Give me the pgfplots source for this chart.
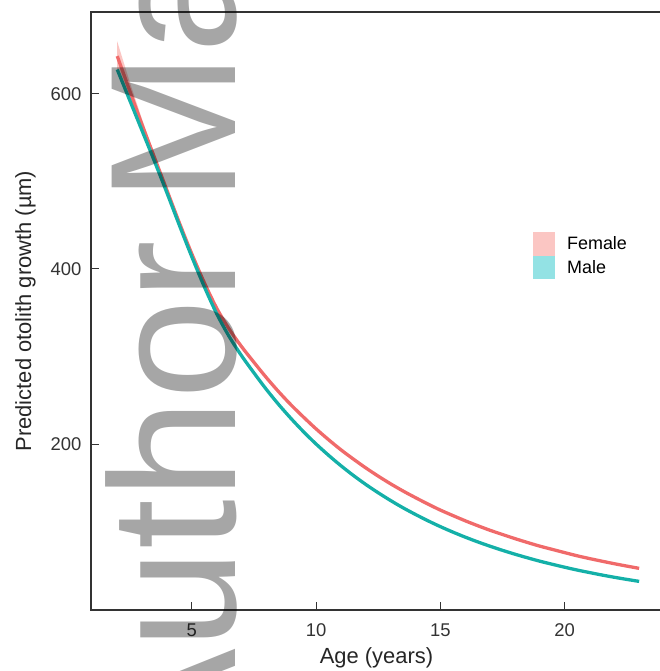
\documentclass[border=0pt]{standalone}
\usepackage{pgfplots}
\pgfplotsset{compat=1.18}
\usepackage{fontspec}
\setmainfont{Liberation Sans}
\definecolor{femline}{HTML}{F06A6A}
\definecolor{maleline}{HTML}{14B0A8}
\definecolor{femband}{HTML}{FBC6C3}
\definecolor{maleband}{HTML}{93E2E4}
\definecolor{axgray}{HTML}{333333}
\begin{document}
\begin{tikzpicture}
\begin{axis}[
  scale only axis, width=571bp, height=598bp,
  xmin=0.944, xmax=23.92, ymin=10.3, ymax=693.7,
  xtick={5,10,15,20}, ytick={200,400,600},
  xtick pos=left, ytick pos=left,
  tick align=inside, major tick length=8bp,
  axis line style={draw=axgray, line width=1.2bp},
  tick style={draw=axgray, line width=1bp},
  /pgf/number format/assume math mode=true,
  every tick label/.append style={font=\fontsize{18.5}{20}\selectfont, text=axgray},
  yticklabel style={xshift=-6bp},
  xticklabel style={yshift=-10bp},
  xlabel={Age (years)},
  ylabel={Predicted otolith growth (µm)},
  label style={font=\fontsize{22}{24}\selectfont, text=black!85},
  xlabel style={at={(axis description cs:0.5,0)}, anchor=base, yshift=-53bp},
  ylabel style={at={(axis description cs:-0.105,0.5)}, anchor=base, rotate=0},
  legend image code/.code={\fill[#1, draw=none] (0bp,-11.75bp) rectangle (22bp,11.75bp);},
  legend style={draw=none, fill=none, at={(rel axis cs:0.774,0.632)}, anchor=north west,
    inner sep=0pt, row sep=0pt, nodes={inner sep=0pt},
    font=\fontsize{18}{20}\selectfont,
    /tikz/every odd column/.append style={column sep=12bp}},
  legend cell align=left,
]
% faint confidence band of the female curve near the youngest ages
\addplot[fill=femband, draw=none, forget plot] coordinates {
(2.0,660) (2.5,614) (3.0,571) (3.5,531) (4.0,492) (4.0,487.8) (3.5,523.4) (3.0,558.6) (2.5,593.6) (2.0,626.6) };
\addplot[femline, line width=3.3bp, smooth, forget plot] table[row sep=\\] {
x y \\
2.0 643.3 \\ 2.5 603.8 \\ 3.0 564.8 \\ 3.5 527.2 \\ 4.0 489.9 \\ 4.5 452.7 \\
5.0 417.3 \\ 5.5 384.6 \\ 6.0 355.3 \\ 6.5 331.5 \\ 7.0 311.4 \\ 7.5 293.4 \\
8.0 275.9 \\ 8.5 259.6 \\ 9.0 244.5 \\ 9.5 230.6 \\ 10.0 217.3 \\ 10.5 205.0 \\
11.0 193.4 \\ 11.5 182.8 \\ 12.0 172.7 \\ 12.5 163.3 \\ 13.0 154.5 \\ 13.5 146.3 \\
14.0 138.7 \\ 14.5 131.4 \\ 15.0 124.5 \\ 15.5 118.3 \\ 16.0 112.3 \\ 16.5 106.7 \\
17.0 101.4 \\ 17.5 96.6 \\ 18.0 91.9 \\ 18.5 87.5 \\ 19.0 83.3 \\ 19.5 79.6 \\
20.0 75.9 \\ 20.5 72.3 \\ 21.0 69.1 \\ 21.5 66.1 \\ 22.0 63.2 \\ 22.5 60.5 \\ 23.0 57.9 \\
};
\addplot[maleline, line width=3.3bp, smooth, forget plot] table[row sep=\\] {
x y \\
2.0 628 \\ 2.5 593 \\ 3.0 558 \\ 3.5 523 \\ 4.0 487 \\ 4.5 450 \\
5.0 414 \\ 5.5 380 \\ 6.0 349 \\ 6.5 323 \\ 7.0 301 \\ 7.5 281.3 \\
8.0 262.4 \\ 8.5 245.0 \\ 9.0 228.9 \\ 9.5 213.9 \\ 10.0 200.0 \\ 10.5 187.2 \\
11.0 175.2 \\ 11.5 164.1 \\ 12.0 153.8 \\ 12.5 144.3 \\ 13.0 135.4 \\ 13.5 127.1 \\
14.0 119.5 \\ 14.5 112.3 \\ 15.0 105.6 \\ 15.5 99.4 \\ 16.0 93.6 \\ 16.5 88.2 \\
17.0 83.2 \\ 17.5 78.5 \\ 18.0 74.1 \\ 18.5 70.0 \\ 19.0 66.1 \\ 19.5 62.6 \\
20.0 59.2 \\ 20.5 56.0 \\ 21.0 53.1 \\ 21.5 50.3 \\ 22.0 47.7 \\ 22.5 45.3 \\ 23.0 43.0 \\
};
\addlegendimage{femband}
\addlegendentry{Female}
\addlegendimage{maleband}
\addlegendentry{Male}
\end{axis}
\node[rotate=90, anchor=base west, inner sep=0pt, text=black, text opacity=0.35,
  font=\fontsize{180}{180}\selectfont]
  at ([shift={(144bp,-159bp)}]current axis.south west) {Author\hspace{-12bp} Manuscript};
\pgfresetboundingbox
\path[use as bounding box] ([shift={(-91bp,-61bp)}]current axis.south west)
  rectangle ([shift={(-2bp,12bp)}]current axis.north east);
\end{tikzpicture}
\end{document}
